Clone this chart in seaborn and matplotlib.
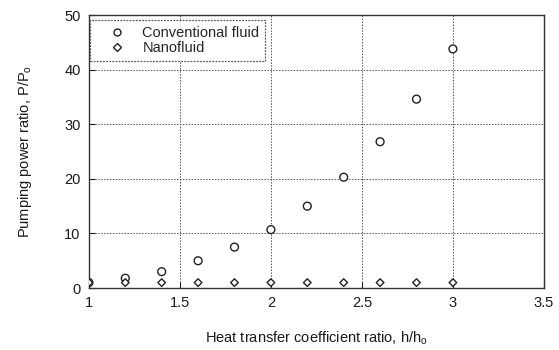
import matplotlib
matplotlib.use("Agg")
import matplotlib.pyplot as plt
import seaborn as sns
import pandas as pd
from matplotlib.lines import Line2D

h_ratio = [1.0, 1.2, 1.4, 1.6, 1.8, 2.0, 2.2, 2.4, 2.6, 2.8, 3.0]
conventional = [1.0, 1.8, 3.0, 5.0, 7.5, 10.7, 15.0, 20.3, 26.8, 34.6, 43.8]
nanofluid = [1.0, 1.0, 1.0, 1.0, 1.0, 1.0, 1.0, 1.0, 1.0, 1.0, 1.0]
series_names = ["Conventional fluid", "Nanofluid"]
x_ticks = [1, 1.5, 2, 2.5, 3, 3.5]
x_tick_labels = ["1", "1.5", "2", "2.5", "3", "3.5"]
y_ticks = [0, 10, 20, 30, 40, 50]

df = pd.DataFrame({
    "h": h_ratio * 2,
    "P": conventional + nanofluid,
    "fluid": [series_names[0]] * len(h_ratio) + [series_names[1]] * len(h_ratio),
})

sns.set_style("ticks")
plt.rcParams["font.family"] = ["Liberation Sans", "DejaVu Sans"]
plt.rcParams["mathtext.fontset"] = "custom"
plt.rcParams["mathtext.rm"] = "Liberation Sans"
plt.rcParams["mathtext.it"] = "Liberation Sans"

fig = plt.figure(figsize=(5.59, 3.5), dpi=100)
ax = fig.add_axes([0.159, 0.177, 0.814, 0.780])

sns.scatterplot(data=df, x="h", y="P", hue="fluid", style="fluid",
                markers={series_names[0]: "o", series_names[1]: "D"},
                palette={series_names[0]: "black", series_names[1]: "black"},
                s=30, ax=ax, legend=False, zorder=3)
for coll in ax.collections:
    coll.set_facecolor("white")
    coll.set_edgecolor("#222222")
    coll.set_linewidth(1.0)
if len(ax.collections) == 1:
    ax.collections[0].set_sizes([32] * len(h_ratio) + [15] * len(h_ratio))

ax.set_xlim(1, 3.5)
ax.set_ylim(0, 50)
ax.set_xticks(x_ticks)
ax.set_xticklabels(x_tick_labels)
ax.set_yticks(y_ticks)
ax.tick_params(direction="in", length=4, width=0.8, labelsize=10.5, colors="#1a1a1a", pad=6)
for sp in ax.spines.values():
    sp.set_visible(True)
    sp.set_linewidth(1.0)
    sp.set_color("#333333")
ax.grid(True, linestyle=(0, (1.5, 1.5)), linewidth=0.7, color="#555555")
ax.set_axisbelow(True)

ax.set_xlabel("Heat transfer coefficient ratio, h/h$_{\\rm o}$", fontsize=10.5, labelpad=14, color="#1a1a1a")
ax.set_ylabel("Pumping power ratio, P/P$_{\\rm o}$", fontsize=10.5, labelpad=22, color="#1a1a1a")

handles = [
    Line2D([], [], marker="o", linestyle="none", markerfacecolor="white",
           markeredgecolor="#222222", markersize=5, markeredgewidth=1.0),
    Line2D([], [], marker="D", linestyle="none", markerfacecolor="white",
           markeredgecolor="#222222", markersize=3.6, markeredgewidth=1.0),
]
leg = ax.legend(handles, series_names, loc="upper left", bbox_to_anchor=(0.002, 0.982),
                fontsize=10.5, frameon=True, fancybox=False, borderpad=0.4,
                handletextpad=0.2, labelspacing=0.1, handlelength=3.0, borderaxespad=0.0)
leg.get_frame().set_edgecolor("#333333")
leg.get_frame().set_linewidth(0.9)
leg.get_frame().set_linestyle((0, (1.5, 1)))

fig.savefig("out.png", dpi=100)
